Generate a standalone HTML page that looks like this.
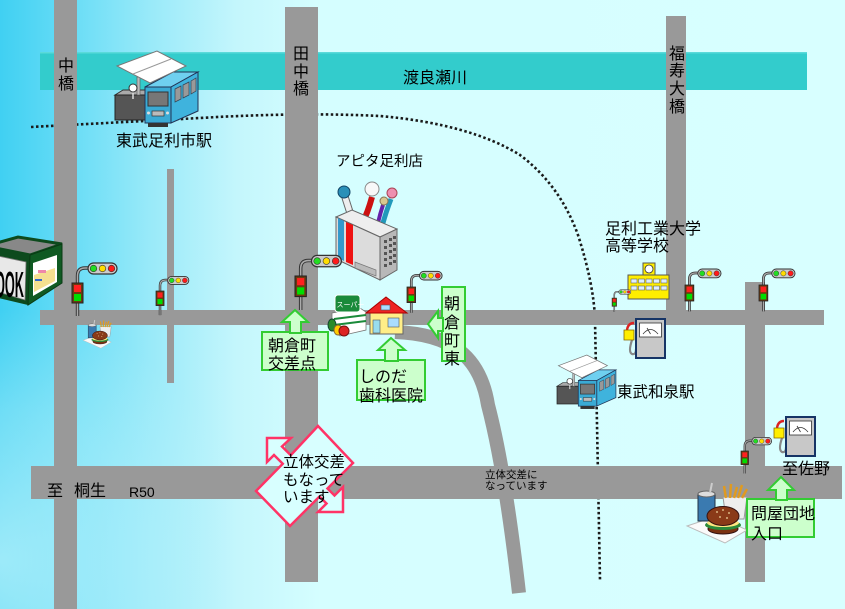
<!DOCTYPE html>
<html><head><meta charset="utf-8">
<style>
html,body{margin:0;padding:0;background:#d8ffff;}
body{width:845px;height:609px;overflow:hidden;}
svg{display:block;}
text{font-family:"Liberation Sans","Noto Sans CJK JP",sans-serif;fill:#000;}
</style></head><body>
<svg width="845" height="609" viewBox="0 0 845 609" xmlns="http://www.w3.org/2000/svg">
<defs>
<linearGradient id="bgg" x1="0" y1="0" x2="845" y2="0" gradientUnits="userSpaceOnUse">
<stop offset="0" stop-color="#40d0f2"/>
<stop offset="0.08" stop-color="#66dcf6"/>
<stop offset="0.18" stop-color="#9aeaf9"/>
<stop offset="0.28" stop-color="#c4f6fc"/>
<stop offset="0.38" stop-color="#d5feff"/>
<stop offset="1" stop-color="#d8ffff"/>
</linearGradient>
<radialGradient id="cl1" cx="0" cy="560" r="250" gradientUnits="userSpaceOnUse">
<stop offset="0" stop-color="#c4f5fc" stop-opacity="0.7"/>
<stop offset="0.6" stop-color="#c4f5fc" stop-opacity="0.35"/>
<stop offset="1" stop-color="#c4f5fc" stop-opacity="0"/>
</radialGradient>
<g id="tl">
 <path d="M5.5 20 V33 M5.5 0 V-7 Q5.5 -15 13 -15 H17" fill="none" stroke="#333" stroke-width="3.4"/>
 <path d="M5.5 20 V33 M5.5 0 V-7 Q5.5 -15 13 -15 H17" fill="none" stroke="#aaa" stroke-width="1.5"/>
 <rect x="16" y="-20" width="29" height="11" rx="5.5" fill="#ccc" stroke="#333" stroke-width="1.2"/>
 <circle cx="21.5" cy="-14.5" r="3.3" fill="#22dd22" stroke="#333" stroke-width=".6"/>
 <circle cx="30.5" cy="-14.5" r="3.3" fill="#ffdd00" stroke="#333" stroke-width=".6"/>
 <circle cx="39.5" cy="-14.5" r="3.3" fill="#ff1a1a" stroke="#333" stroke-width=".6"/>
 <rect x="0" y="0" width="11" height="20" fill="#6a3a10" stroke="#222" stroke-width="1"/>
 <rect x="2" y="2" width="7" height="7" fill="#ff2020"/>
 <rect x="2" y="11" width="7" height="7" fill="#00dd00"/>
</g>
<g id="st">
 <polygon points="0,44 8,39 36,39 30,44" fill="#aaa" stroke="#333" stroke-width="1"/>
 <rect x="0" y="44" width="30" height="25" fill="#555" stroke="#222"/>
 <rect x="22" y="26" width="3" height="18" fill="#bbb" stroke="#555" stroke-width=".6"/>
 <line x1="18" y1="40" x2="18" y2="48" stroke="#ddd" stroke-width="1.5"/>
 <circle cx="18" cy="37" r="4" fill="#fff" stroke="#333"/>
 <polygon points="30,36 58,21 83,21 56,36" fill="#6fd0f0" stroke="#235" stroke-width="1"/>
 <polygon points="56,36 83,21 83,60 56,72" fill="#3fb3dd" stroke="#235"/>
 <rect x="30" y="36" width="26" height="36" fill="#3aaad4" stroke="#235"/>
 <rect x="33" y="41" width="20" height="14" fill="#777" stroke="#333"/>
 <polygon points="60,38 66,35 66,48 60,51" fill="#999" stroke="#345" stroke-width=".7"/>
 <polygon points="68,34 74,31 74,44 68,47" fill="#999" stroke="#345" stroke-width=".7"/>
 <polygon points="76,30 81,27 81,40 76,43" fill="#999" stroke="#345" stroke-width=".7"/>
 <rect x="37" y="60" width="12" height="5" fill="#bbb" stroke="#333" stroke-width=".7"/>
 <circle cx="33.5" cy="62" r="1.5" fill="#ddd"/>
 <circle cx="52.5" cy="62" r="1.5" fill="#ddd"/>
 <rect x="33" y="72" width="20" height="4" fill="#333"/>
 <polygon points="2,15 42,0 71,15 35,32" fill="#fff" stroke="#777"/>
 <line x1="18" y1="23" x2="56" y2="8" stroke="#999"/>
</g>
<g id="pp">
 <path d="M-4 21 Q-8 33 -4 35 Q0 36 0 30" fill="none" stroke="#888" stroke-width="2.2"/>
 <path d="M-9 11 Q-8 4 -2 4" fill="none" stroke="#dd2222" stroke-width="2.4"/>
 <polygon points="-12,11 -2,11 -2,21 -12,21" fill="#ffee00" stroke="#886600" stroke-width=".8"/>
 <rect x="0" y="0" width="29" height="39" fill="#c8c8c8" stroke="#163466" stroke-width="2"/>
 <rect x="3.5" y="4" width="22" height="14" fill="#fff" stroke="#333" stroke-width=".8"/>
 <path d="M7 15 Q14.5 6 22 15" fill="none" stroke="#333" stroke-width=".8"/>
 <line x1="14.5" y1="15" x2="11" y2="9" stroke="#333" stroke-width=".8"/>
</g>
<g id="bk">
 <polygon points="0,43 30,33 60,47 38,60" fill="#fafafa" stroke="#bbb"/>
 <polygon points="36,14 60,14 57,36 39,36" fill="#eee" stroke="#999"/>
 <g stroke="#e09a20" stroke-width="2.5">
  <line x1="39" y1="15" x2="37" y2="3"/><line x1="43" y1="15" x2="44" y2="1"/>
  <line x1="47" y1="15" x2="50" y2="4"/><line x1="51" y1="15" x2="55" y2="2"/>
  <line x1="55" y1="15" x2="60" y2="6"/>
 </g>
 <rect x="11" y="11" width="17" height="27" fill="#3a7ab0" stroke="#234"/>
 <ellipse cx="19.5" cy="11" rx="8.5" ry="3" fill="#ddd" stroke="#666"/>
 <line x1="23" y1="10" x2="25" y2="0" stroke="#ccc" stroke-width="2"/>
 <ellipse cx="36" cy="46" rx="15" ry="5" fill="#7a3010" stroke="#311"/>
 <ellipse cx="36" cy="42" rx="18" ry="5" fill="#2b8a3a"/>
 <ellipse cx="36" cy="40" rx="16" ry="4" fill="#ffe680"/>
 <ellipse cx="36" cy="33" rx="16" ry="9.5" fill="#8a3a18" stroke="#311"/>
 <g fill="#f0d8a0"><circle cx="30" cy="29" r=".9"/><circle cx="36" cy="27" r=".9"/><circle cx="42" cy="30" r=".9"/><circle cx="33" cy="34" r=".9"/><circle cx="40" cy="35" r=".9"/></g>
</g>
</defs>

<!-- background -->
<rect x="0" y="0" width="845" height="609" fill="url(#bgg)"/>
<rect x="0" y="300" width="260" height="309" fill="url(#cl1)"/>

<!-- river -->
<rect x="40" y="52" width="767" height="38" fill="#33cccc"/>
<rect x="40" y="52" width="767" height="1.5" fill="#5adada"/>

<!-- railway -->
<path d="M31 127 L200 118 Q300 112 380 116 Q470 124 520 155 Q560 185 578 235 Q594 285 595 320 L600 580" fill="none" stroke="#1a1a1a" stroke-width="2.6" stroke-dasharray="2.5 2.5"/>

<!-- roads -->
<g fill="#999999">
<rect x="54" y="0" width="23" height="609"/>
<rect x="285" y="7" width="33" height="575"/>
<rect x="666" y="16" width="20" height="300"/>
<rect x="167" y="169" width="7" height="214"/>
<rect x="40" y="310" width="784" height="15"/>
<rect x="745" y="282" width="20" height="300"/>
<rect x="31" y="466" width="811" height="33"/>
</g>
<path d="M395 332 C450 334 480 355 488 405 Q505 470 519 593" fill="none" stroke="#999999" stroke-width="14"/>

<!-- stations -->
<use href="#st" transform="translate(115,51)"/>
<use href="#st" transform="translate(557,355) scale(0.71)"/>

<!-- bookstore -->
<polygon points="-14,246 18,237 62,244 30,255" fill="#888" stroke="#0d4a1d" stroke-width="3"/>
<polygon points="-14,246 30,255 28,305 -14,295" fill="#0d4a1d"/>
<polygon points="-2,256 26,262 25,300 -2,292" fill="#e8e8e8" stroke="#777" stroke-width=".8"/>
<text x="-5" y="297" font-size="36" font-weight="bold" textLength="29" lengthAdjust="spacingAndGlyphs" style="font-family:'Liberation Sans',sans-serif">OOK</text>
<polygon points="30,255 62,244 62,283 28,305" fill="#0f5a22" stroke="#0a3a14"/>
<polygon points="33,263 57,255 57,282 33,296" fill="#fff"/>
<polygon points="34,275 55,268 55,281 34,292" fill="#f5e090"/>
<rect x="38" y="270" width="8" height="3" fill="#ee88aa"/>
<rect x="35" y="279" width="7" height="2" fill="#3366cc"/>

<!-- apita -->
<path d="M345 197 L353 222" stroke="#666" stroke-width="7.5"/>
<path d="M345 197 L353 222" stroke="#eee" stroke-width="5.5"/>
<path d="M372 197 Q368 212 362 224" fill="none" stroke="#cc1111" stroke-width="6"/>
<path d="M391 199 Q386 212 383 223" fill="none" stroke="#2299bb" stroke-width="5"/>
<path d="M383 205 Q380 214 378 223" fill="none" stroke="#6622aa" stroke-width="4"/>
<circle cx="344" cy="192" r="6" fill="#2a90b8" stroke="#146"/>
<circle cx="372" cy="189" r="7" fill="#f8f8f8" stroke="#888"/>
<circle cx="392" cy="193" r="5" fill="#ee8fb0" stroke="#a45"/>
<circle cx="384" cy="201" r="4" fill="#d8c890" stroke="#875"/>
<polygon points="336,217 352,210 397,229 380,237" fill="#eee" stroke="#666"/>
<polygon points="336,217 380,237 380,280 336,259" fill="#dcdcdc" stroke="#666"/>
<polygon points="338,218 344,221 344,261 338,258" fill="#3399cc"/>
<polygon points="346,222 353,225 353,265 346,262" fill="#ee1111"/>
<polygon points="355,262 376,270 376,276 355,268" fill="#bbb" stroke="#777" stroke-width=".7"/>
<polygon points="380,237 397,229 397,270 380,280" fill="#b8b8b8" stroke="#666"/>
<g fill="#555">
<rect x="384" y="240" width="3" height="3"/><rect x="389" y="238" width="3" height="3"/><rect x="393" y="236" width="3" height="3"/>
<rect x="384" y="246" width="3" height="3"/><rect x="389" y="244" width="3" height="3"/><rect x="393" y="242" width="3" height="3"/>
<rect x="384" y="252" width="3" height="3"/><rect x="389" y="250" width="3" height="3"/><rect x="393" y="248" width="3" height="3"/>
<rect x="384" y="258" width="3" height="3"/><rect x="389" y="256" width="3" height="3"/><rect x="393" y="254" width="3" height="3"/>
<rect x="384" y="264" width="3" height="3"/><rect x="389" y="262" width="3" height="3"/><rect x="393" y="260" width="3" height="3"/>
</g>

<!-- school -->
<rect x="628" y="275" width="41" height="24" fill="#ffee00" stroke="#555"/>
<rect x="643" y="263" width="12" height="12" fill="#ffee00" stroke="#555"/>
<circle cx="649" cy="269" r="4" fill="#fff" stroke="#333" stroke-width=".8"/>
<g fill="#ddeeff" stroke="#666" stroke-width=".6">
<rect x="631" y="279" width="6" height="4"/><rect x="638.5" y="279" width="6" height="4"/><rect x="646" y="279" width="6" height="4"/><rect x="653.5" y="279" width="6" height="4"/><rect x="661" y="279" width="6" height="4"/>
<rect x="631" y="286" width="6" height="4"/><rect x="638.5" y="286" width="6" height="4"/><rect x="646" y="286" width="6" height="4"/><rect x="653.5" y="286" width="6" height="4"/><rect x="661" y="286" width="6" height="4"/>
</g>

<!-- pumps -->
<use href="#pp" transform="translate(636,319)"/>
<use href="#pp" transform="translate(786,417)"/>

<!-- burgers -->
<use href="#bk" transform="translate(687,483)"/>
<use href="#bk" transform="translate(83,320) scale(0.47)"/>

<!-- supermarket -->
<polygon points="332,313 360,308 366,312 366,330 340,336 332,330" fill="#fff" stroke="#777" stroke-width=".8"/>
<line x1="334" y1="319" x2="366" y2="315" stroke="#1a8a3a" stroke-width="2"/>
<line x1="334" y1="325" x2="366" y2="321" stroke="#1a8a3a" stroke-width="2"/>
<rect x="335" y="295" width="25" height="17" rx="3" fill="#1a8a3a" stroke="#fff" stroke-width="1"/>
<text x="336.5" y="307" font-size="7" style="fill:#fff">スーパー</text>
<ellipse cx="332" cy="325" rx="4" ry="6" fill="#2a8a2a" stroke="#143"/>
<ellipse cx="338" cy="330" rx="4" ry="5" fill="#ffcc00" stroke="#863"/>
<ellipse cx="344" cy="331" rx="5" ry="5" fill="#dd2222" stroke="#711"/>

<!-- house -->
<rect x="370" y="312" width="33" height="22" fill="#ffee88" stroke="#666"/>
<polygon points="386,297 407,313 366,313" fill="#ee2222" stroke="#aa0000"/>
<rect x="381" y="305" width="9" height="5" fill="#aaddff" stroke="#555" stroke-width=".6"/>
<rect x="373" y="320" width="7" height="13" fill="#99ddee" stroke="#555" stroke-width=".6"/>
<rect x="388" y="318" width="11" height="9" fill="#aaddff" stroke="#555" stroke-width=".6"/>

<!-- traffic lights -->
<use href="#tl" transform="translate(72,283)"/>
<use href="#tl" transform="translate(156,291) scale(0.73)"/>
<use href="#tl" transform="translate(295,276) scale(1.03)"/>
<use href="#tl" transform="translate(407,287) scale(0.78)"/>
<use href="#tl" transform="translate(612,298) scale(0.42)"/>
<use href="#tl" transform="translate(685,285) scale(0.8)"/>
<use href="#tl" transform="translate(759,285) scale(0.8)"/>
<use href="#tl" transform="translate(741,451) scale(0.68)"/>

<!-- green labels -->
<g fill="#ccffcc" stroke="#33cc33" stroke-width="2">
<rect x="262" y="332" width="66" height="38"/>
<polygon points="295,310 308,322 301,322 301,333 290,333 290,322 282,322"/>
<rect x="357" y="360" width="68" height="40"/>
<polygon points="391,338 405,350 398,350 398,361 385,361 385,350 378,350"/>
<rect x="442" y="287" width="23" height="74"/>
<polygon points="428,324 438,311 438,318 443,318 443,331 438,331 438,338"/>
<rect x="747" y="499" width="67" height="38"/>
<polygon points="781,477 794,490 787,490 787,500 776,500 776,490 768,490"/>
</g>

<!-- pink crossing sign -->
<polygon points="318,426 353,463 327.5,488.5 334.5,495.5 343,487 343,512 318,512 326.5,503.5 319.5,496.5 290,526 256,491 282.75,463.75 274,455 267,462 267,438 291,438 282,446.5 290.75,455.25" fill="#d8ffff" stroke="#ff3366" stroke-width="2.5" stroke-linejoin="miter"/>

<!-- labels -->
<g font-size="16">
<text x="58" y="71">中</text><text x="58" y="89">橋</text>
<text x="293" y="59">田</text><text x="293" y="77">中</text><text x="293" y="94">橋</text>
<text x="669" y="59">福</text><text x="669" y="76">寿</text><text x="669" y="94">大</text><text x="669" y="112">橋</text>
<text x="403" y="83">渡良瀬川</text>
<text x="116" y="146">東武足利市駅</text>
<text x="605" y="234">足利工業大学</text>
<text x="605" y="251">高等学校</text>
<text x="617" y="397" font-size="15.5">東武和泉駅</text>
<text x="782" y="474">至佐野</text>
<text x="47" y="496">至</text><text x="74" y="496">桐生</text>
<text x="268" y="351">朝倉町</text>
<text x="268" y="369">交差点</text>
<text x="359" y="382">しのだ</text>
<text x="359" y="401">歯科医院</text>
<text x="444" y="309">朝</text><text x="444" y="328">倉</text><text x="444" y="346">町</text><text x="444" y="364">東</text>
<text x="751" y="519">問屋団地</text>
<text x="751" y="539">入口</text>
</g>
<text x="336" y="166" font-size="14.5">アピタ足利店</text>
<text x="129" y="497" font-size="14" style="font-family:'Liberation Sans',sans-serif">R50</text>
<text x="485" y="478" font-size="10.5">立体交差に</text>
<text x="485" y="489" font-size="10.5">なっています</text>
<g font-size="15.5">
<text x="283" y="467">立体交差</text>
<text x="283" y="485">もなって</text>
<text x="283" y="502">います</text>
</g>
</svg>
</body></html>
